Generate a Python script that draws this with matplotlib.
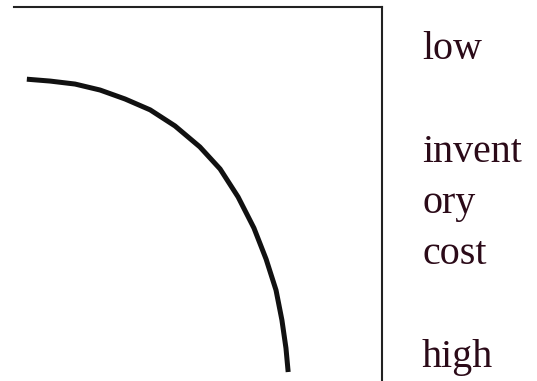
import matplotlib.pyplot as plt

# Trade-off curve (x: 0..1 across the box, y: 0..1 up the box)
curve_x = [0.035, 0.098, 0.166, 0.234, 0.302, 0.370, 0.4375, 0.505,
           0.560, 0.609, 0.652, 0.685, 0.712, 0.728, 0.739, 0.745]
curve_y = [0.807, 0.802, 0.794, 0.778, 0.754, 0.725, 0.682, 0.626,
           0.567, 0.492, 0.409, 0.326, 0.243, 0.163, 0.088, 0.024]

# Scale labels on the right-hand side, one per text row
scale_labels = ["low", "invent", "ory", "cost", "high"]
scale_rows = [0, 2, 3, 4, 6]

fig = plt.figure(figsize=(5.37, 3.81), dpi=100)
ax = fig.add_axes([0.026, 0.0, 0.6854, 0.9816])

ax.plot(curve_x, curve_y, color="#111111", linewidth=3.6,
        solid_capstyle="butt", solid_joinstyle="round")
ax.set_xlim(0, 1)
ax.set_ylim(0, 1)

# Only the top and right edges of the box are drawn
for side in ("left", "bottom"):
    ax.spines[side].set_visible(False)
for side in ("top", "right"):
    ax.spines[side].set_linewidth(1.5)
    ax.spines[side].set_color("#222222")
ax.set_xticks([])
ax.set_yticks([])

first_baseline = 59
row_step = 51.3
for label, row in zip(scale_labels, scale_rows):
    py = first_baseline + row * row_step
    fig.text(422 / 537, 1 - py / 381, label, fontsize=28.8,
             family="Liberation Serif", color="#2b0a18",
             ha="left", va="baseline")

fig.savefig("out.png", dpi=100)
